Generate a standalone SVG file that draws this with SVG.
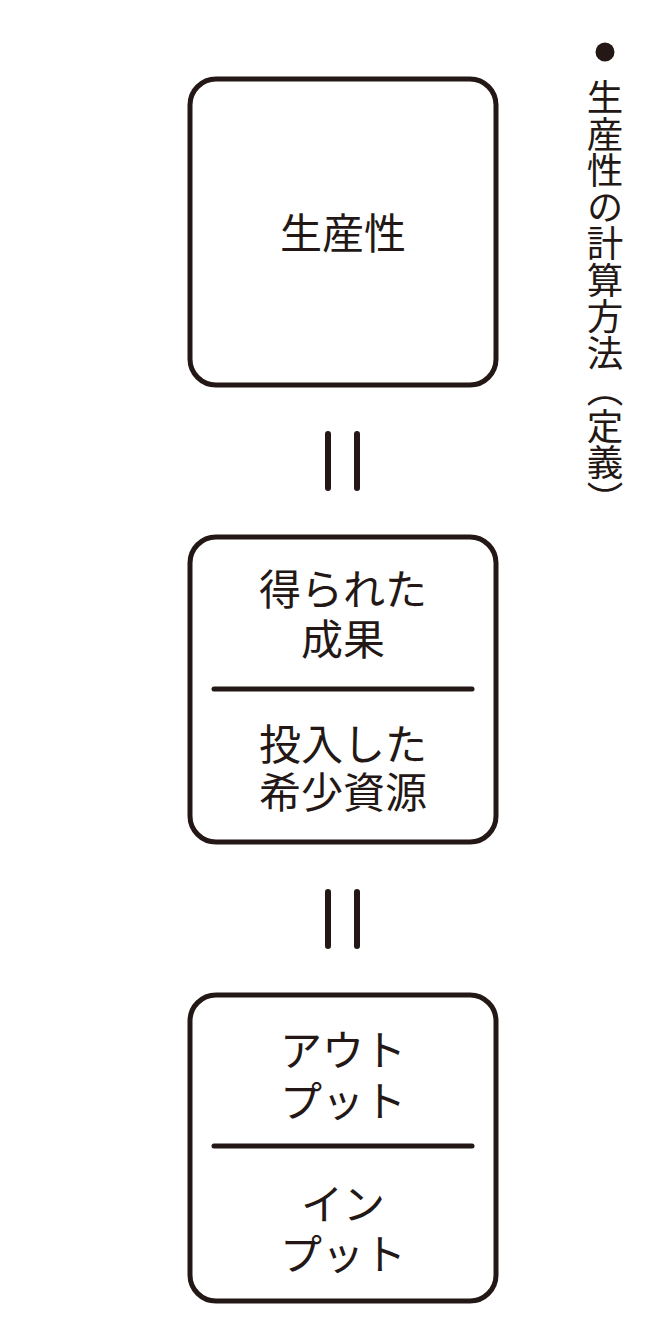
<svg xmlns="http://www.w3.org/2000/svg" width="670" height="1334" viewBox="0 0 670 1334">
<style>
.box{fill:#fff;stroke:#231815;stroke-width:5}
.div{stroke:#231815;stroke-width:5;stroke-linecap:round}
.eq{stroke:#231815;stroke-width:6;stroke-linecap:round}
.t{font-family:"Noto Sans CJK JP","Noto Sans CJK SC",sans-serif;font-size:42px;fill:#231815;text-anchor:middle}
.v{font-family:"Noto Sans CJK JP","Noto Sans CJK SC",sans-serif;font-size:36.5px;fill:#231815;writing-mode:vertical-rl}
</style>
<rect width="670" height="1334" fill="#fff"/>
<g id="title">
<circle cx="605" cy="52" r="9.5" fill="#231815"/>
<text class="v" x="605" y="79">生産性の計算方法（定義）</text>
</g>
<g id="node-productivity">
<rect class="box" x="190" y="79" width="306" height="306" rx="26"/>
<text class="t" x="343" y="249">生産性</text>
</g>
<g id="node-ratio">
<rect class="box" x="190" y="537" width="306" height="305" rx="26"/>
<line class="div" x1="214" y1="689" x2="472" y2="689"/>
<text class="t" x="343" y="605">得られた</text>
<text class="t" x="343" y="655">成果</text>
<text class="t" x="343" y="760">投入した</text>
<text class="t" x="343" y="808">希少資源</text>
</g>
<g id="node-io">
<rect class="box" x="190" y="995" width="306" height="306" rx="26"/>
<line class="div" x1="214" y1="1146" x2="472" y2="1146"/>
<text class="t" x="343" y="1066">アウト</text>
<text class="t" x="343" y="1117">プット</text>
<text class="t" x="343" y="1220">イン</text>
<text class="t" x="343" y="1270">プット</text>
</g>
<g id="connectors">
<line class="eq" x1="328" y1="434" x2="328" y2="488"/>
<line class="eq" x1="357" y1="434" x2="357" y2="488"/>
<line class="eq" x1="328" y1="892" x2="328" y2="946"/>
<line class="eq" x1="357" y1="892" x2="357" y2="946"/>
</g>
</svg>
